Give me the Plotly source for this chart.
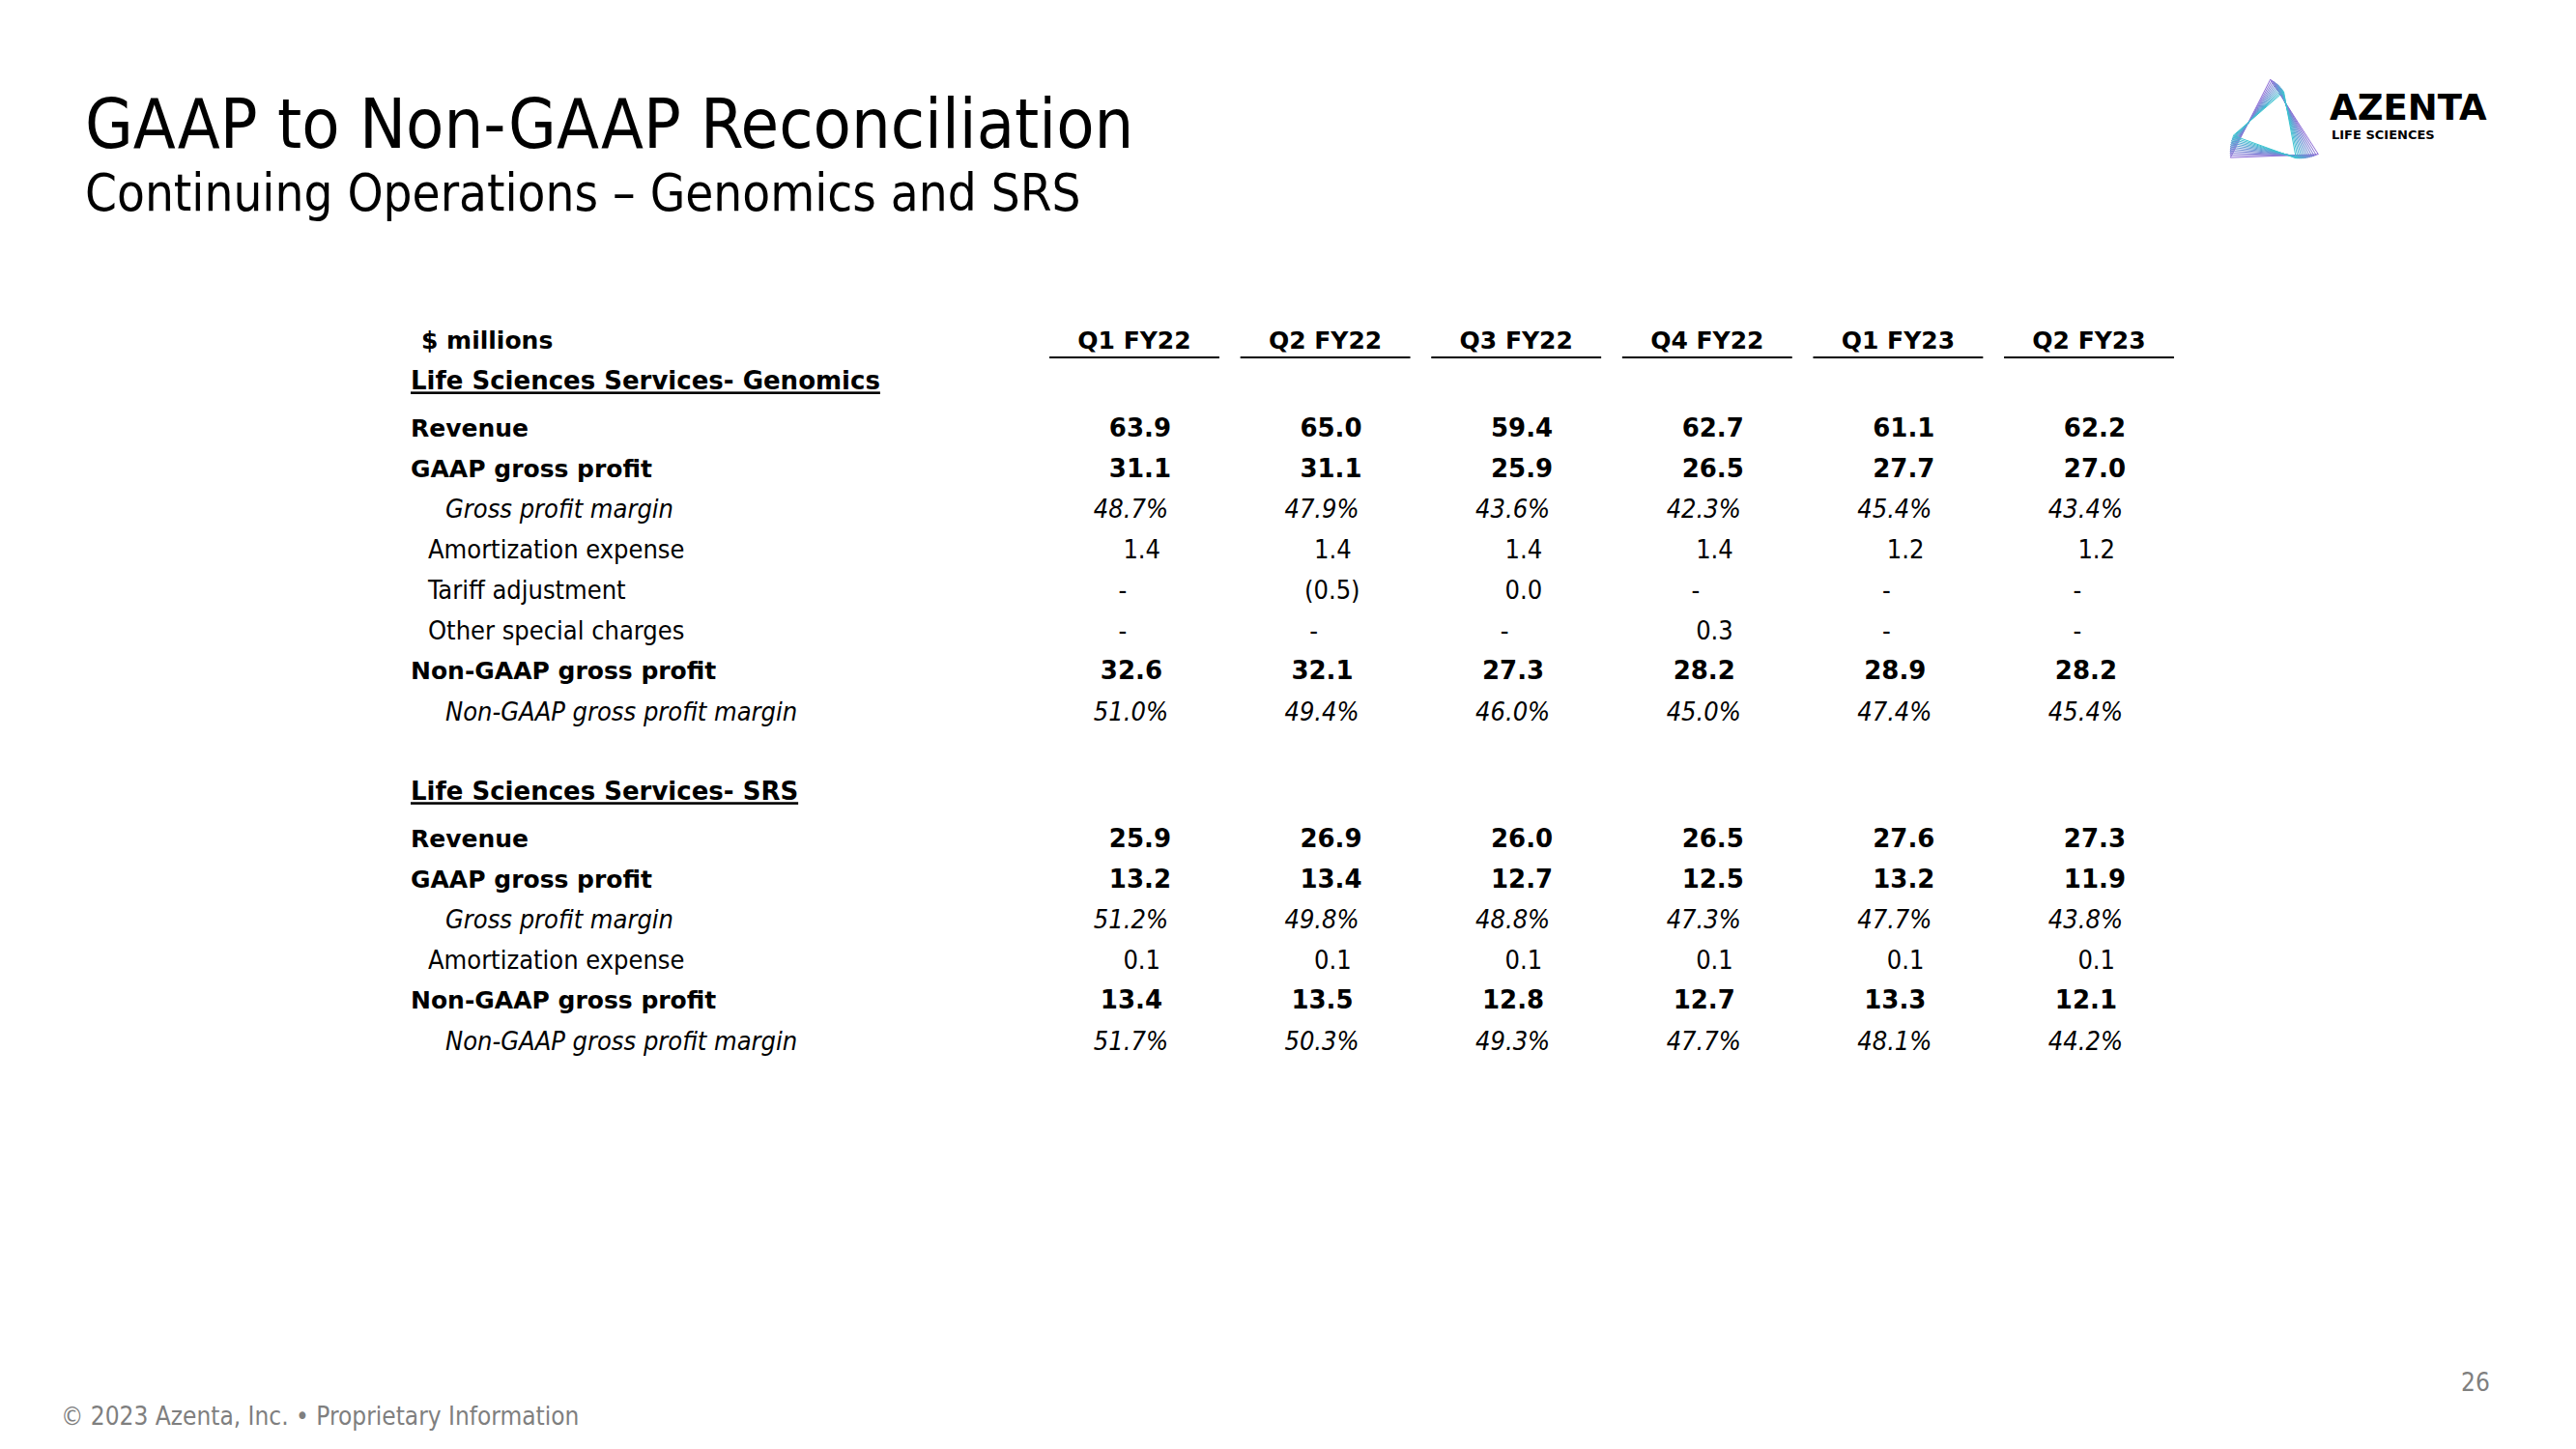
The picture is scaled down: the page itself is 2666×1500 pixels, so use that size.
import math
import plotly.graph_objects as go

# ---------------- data ----------------
QUARTERS = ["Q1 FY22", "Q2 FY22", "Q3 FY22", "Q4 FY22", "Q1 FY23", "Q2 FY23"]

GEN_REVENUE = [63.9, 65.0, 59.4, 62.7, 61.1, 62.2]
GEN_GAAP_GP = [31.1, 31.1, 25.9, 26.5, 27.7, 27.0]
GEN_GP_MARGIN = [48.7, 47.9, 43.6, 42.3, 45.4, 43.4]
GEN_AMORT = [1.4, 1.4, 1.4, 1.4, 1.2, 1.2]
GEN_TARIFF = [None, -0.5, 0.0, None, None, None]
GEN_OTHER = [None, None, None, 0.3, None, None]
GEN_NONGAAP_GP = [32.6, 32.1, 27.3, 28.2, 28.9, 28.2]
GEN_NONGAAP_MARGIN = [51.0, 49.4, 46.0, 45.0, 47.4, 45.4]

SRS_REVENUE = [25.9, 26.9, 26.0, 26.5, 27.6, 27.3]
SRS_GAAP_GP = [13.2, 13.4, 12.7, 12.5, 13.2, 11.9]
SRS_GP_MARGIN = [51.2, 49.8, 48.8, 47.3, 47.7, 43.8]
SRS_AMORT = [0.1, 0.1, 0.1, 0.1, 0.1, 0.1]
SRS_NONGAAP_GP = [13.4, 13.5, 12.8, 12.7, 13.3, 12.1]
SRS_NONGAAP_MARGIN = [51.7, 50.3, 49.3, 47.7, 48.1, 44.2]

UNIT_LABEL = "$ millions"
SECTION_GEN = "Life Sciences Services- Genomics"
SECTION_SRS = "Life Sciences Services- SRS"

GEN_ROWS = [
    ("Revenue", "bold", GEN_REVENUE),
    ("GAAP gross profit", "bold", GEN_GAAP_GP),
    ("Gross profit margin", "pct", GEN_GP_MARGIN),
    ("Amortization expense", "plain", GEN_AMORT),
    ("Tariff adjustment", "plain", GEN_TARIFF),
    ("Other special charges", "plain", GEN_OTHER),
    ("Non-GAAP gross profit", "sum", GEN_NONGAAP_GP),
    ("Non-GAAP gross profit margin", "pct", GEN_NONGAAP_MARGIN),
]
SRS_ROWS = [
    ("Revenue", "bold", SRS_REVENUE),
    ("GAAP gross profit", "bold", SRS_GAAP_GP),
    ("Gross profit margin", "pct", SRS_GP_MARGIN),
    ("Amortization expense", "plain", SRS_AMORT),
    ("Non-GAAP gross profit", "sum", SRS_NONGAAP_GP),
    ("Non-GAAP gross profit margin", "pct", SRS_NONGAAP_MARGIN),
]

TITLE = "GAAP to Non-GAAP Reconciliation"
SUBTITLE = "Continuing Operations \u2013 Genomics and SRS"
FOOTER = "\u00a9 2023 Azenta, Inc. \u2022 Proprietary Information"
PAGE_NO = "26"

# ---------------- layout constants ----------------
W, H = 2666, 1500
COL0_PX, COL_STEP_PX = 1174.0, 197.6
ROW0_PX, ROW_STEP_PX = 352.0, 41.9
TEXT_DY = 3.0 / ROW_STEP_PX

BOLD = "DejaVu Sans, Liberation Sans, sans-serif"
REG = "DejaVu Sans Condensed, DejaVu Sans, sans-serif"


def xu(px):
    return (px - COL0_PX) / COL_STEP_PX


LABEL_X = {"bold": xu(425), "sum": xu(425), "plain": xu(443), "pct": xu(461)}
VALUE_DX = {"bold": 38 / COL_STEP_PX, "sum": 29 / COL_STEP_PX,
            "pct": 35 / COL_STEP_PX, "plain": 27 / COL_STEP_PX}
NEG_DX = 36 / COL_STEP_PX
DASH_DX = -12 / COL_STEP_PX


def fmt(v, style):
    if v is None:
        return "-"
    if style == "pct":
        return f"{v:.1f}%"
    if v < 0:
        return f"({abs(v):.1f})"
    return f"{v:.1f}"


fig = go.Figure()

# header row
y_head = 0.0
fig.add_trace(go.Scatter(
    x=[xu(436)], y=[y_head + TEXT_DY], mode="text", text=[f"<b>{UNIT_LABEL}</b>"],
    textposition="middle right", textfont=dict(family=BOLD, size=25, color="black"),
    hoverinfo="skip", showlegend=False))
fig.add_trace(go.Scatter(
    x=list(range(len(QUARTERS))), y=[y_head + TEXT_DY] * len(QUARTERS), mode="text",
    text=[f"<b>{q}</b>" for q in QUARTERS], textposition="middle center",
    textfont=dict(family=BOLD, size=25, color="black"),
    hoverinfo="skip", showlegend=False))
for k in range(len(QUARTERS)):
    fig.add_shape(type="line", xref="x", yref="y", x0=k - 0.445, x1=k + 0.445,
                  y0=18 / ROW_STEP_PX, y1=18 / ROW_STEP_PX,
                  line=dict(color="black", width=2))


def add_section(title, rows, y_sec):
    fig.add_trace(go.Scatter(
        x=[xu(425)], y=[y_sec + TEXT_DY], mode="text", text=[f"<b><u>{title}</u></b>"],
        textposition="middle right", textfont=dict(family=BOLD, size=26, color="black"),
        hoverinfo="skip", showlegend=False))
    y = y_sec + 1.16
    for label, style, vals in rows:
        yy = y + TEXT_DY
        if style in ("bold", "sum"):
            lab, font, fsize = f"<b>{label}</b>", BOLD, 25
        elif style == "pct":
            lab, font, fsize = f"<i>{label}</i>", REG, 27
        else:
            lab, font, fsize = label, REG, 27
        fig.add_trace(go.Scatter(
            x=[LABEL_X[style]], y=[yy], mode="text", text=[lab],
            textposition="middle right", textfont=dict(family=font, size=fsize, color="black"),
            hoverinfo="skip", showlegend=False))
        xs, ts, tps = [], [], []
        for k, v in enumerate(vals):
            s = fmt(v, style)
            if style in ("bold", "sum"):
                s = f"<b>{s}</b>"
            elif style == "pct":
                s = f"<i>{s}</i>"
            if v is None:
                xs.append(k + DASH_DX)
                tps.append("middle center")
            elif v < 0:
                xs.append(k + NEG_DX)
                tps.append("middle left")
            else:
                xs.append(k + VALUE_DX[style])
                tps.append("middle left")
            ts.append(s)
        fig.add_trace(go.Scatter(
            x=xs, y=[yy] * len(xs), mode="text", text=ts, textposition=tps,
            textfont=dict(family=font, size=26 if style in ("bold", "sum") else 27, color="black"),
            hoverinfo="skip", showlegend=False))
        y += 1.0
    return y - 1.0


last = add_section(SECTION_GEN, GEN_ROWS, 1.0)
add_section(SECTION_SRS, SRS_ROWS, last + 1.98)

# ---------------- titles & footer ----------------
def px_x(p):
    return p / W


def px_y(p):
    return 1 - p / H


annotations = [
    dict(text=TITLE, x=px_x(86), y=px_y(128), xanchor="left", yanchor="middle",
         font=dict(family=REG, size=71.5, color="black")),
    dict(text=SUBTITLE, x=px_x(86), y=px_y(200), xanchor="left", yanchor="middle",
         font=dict(family=REG, size=52.5, color="black")),
    dict(text=FOOTER, x=px_x(61), y=px_y(1466), xanchor="left", yanchor="middle",
         font=dict(family=REG, size=26, color="#7f7f7f")),
    dict(text=PAGE_NO, x=px_x(2579), y=px_y(1431), xanchor="right", yanchor="middle",
         font=dict(family=REG, size=26, color="#7f7f7f")),
    dict(text="<b>AZENTA</b>", x=px_x(2409), y=px_y(112), xanchor="left", yanchor="middle",
         font=dict(family=BOLD, size=37, color="black")),
    dict(text="<b>LIFE SCIENCES</b>", x=px_x(2411), y=px_y(139), xanchor="left", yanchor="middle",
         font=dict(family=BOLD, size=13, color="black")),
]
for a in annotations:
    a.update(xref="paper", yref="paper", showarrow=False)

# logo: twisted triangle outlines
cx, cy = 2352.0, 128.0
base = [(2353 - cx, 82 - cy), (2306 - cx, 160 - cy), (2397 - cx, 163 - cy)]
n = 12
c0 = (142, 108, 214)
c1 = (60, 196, 208)
for i in range(n):
    t = i / (n - 1)
    ang = math.radians(-4 + 22 * t)
    sc = 1.0 - 0.24 * t
    pts = []
    for (dx, dy) in base:
        rx = (dx * math.cos(ang) - dy * math.sin(ang)) * sc
        ry = (dx * math.sin(ang) + dy * math.cos(ang)) * sc
        pts.append((px_x(cx + rx), px_y(cy + ry)))
    path = "M {:.5f},{:.5f} L {:.5f},{:.5f} L {:.5f},{:.5f} Z".format(
        pts[0][0], pts[0][1], pts[1][0], pts[1][1], pts[2][0], pts[2][1])
    col = "rgb({},{},{})".format(*[int(round(c0[j] + (c1[j] - c0[j]) * t)) for j in range(3)])
    fig.add_shape(type="path", path=path, xref="paper", yref="paper",
                  line=dict(color=col, width=1.0))

fig.update_layout(
    width=W, height=H, margin=dict(l=0, r=0, t=0, b=0),
    paper_bgcolor="white", plot_bgcolor="white",
    xaxis=dict(visible=False, range=[xu(0), xu(W)], fixedrange=True),
    yaxis=dict(visible=False, range=[(H - ROW0_PX) / ROW_STEP_PX, -ROW0_PX / ROW_STEP_PX],
               fixedrange=True),
    annotations=annotations,
    showlegend=False,
)

fig.write_html("out.html", config={"displayModeBar": False},
               post_script="document.body.style.margin='0px';document.body.style.overflow='hidden';")
